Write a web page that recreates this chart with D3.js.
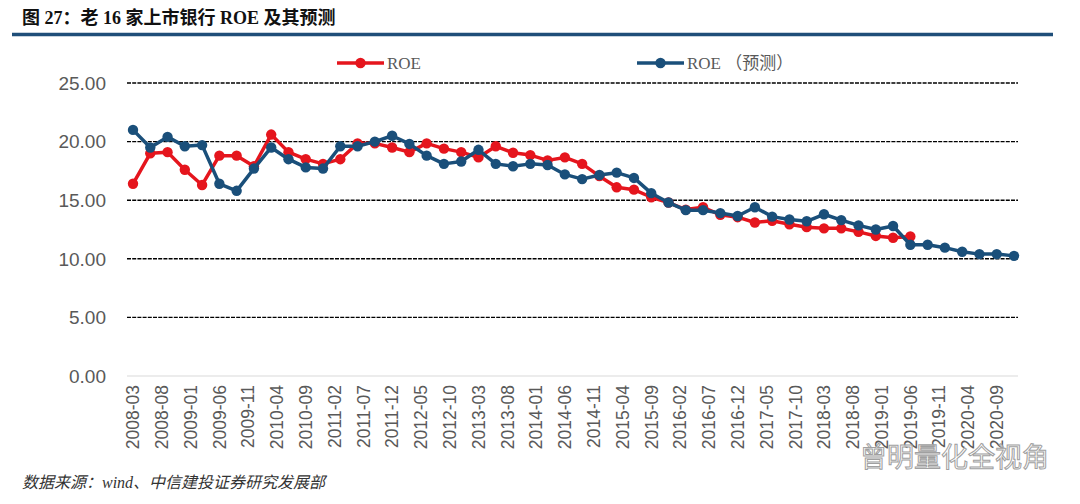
<!DOCTYPE html>
<html>
<head>
<meta charset="utf-8">
<script src="https://cdn.jsdelivr.net/npm/d3@7"></script>
<style>
  body { margin: 0; background: #fff; }
  svg { display: block; }
</style>
</head>
<body>
<svg id="chart" width="1080" height="504"></svg>
<script>
'use strict';

// quarterly ROE (%) of the 16 listed banks, 2008-03 .. 2019-06
const roe = [16.4, 19.0, 19.1, 17.6, 16.3, 18.8, 18.8, 17.9, 20.6, 19.1,
  18.5, 18.1, 18.5, 19.85, 19.85, 19.5, 19.1, 19.85, 19.4, 19.1,
  18.65, 19.6, 19.05, 18.85, 18.4, 18.65, 18.1, 17.05, 16.1, 15.9,
  15.25, 14.8, 14.2, 14.4, 13.75, 13.55, 13.1, 13.25, 12.95, 12.7,
  12.6, 12.6, 12.3, 11.95, 11.8, 11.9];

// forecast series, 2008-03 .. 2020-12
const roeForecast = [21.0, 19.5, 20.4, 19.6, 19.7, 16.4, 15.8, 17.7, 19.5, 18.5,
  17.8, 17.7, 19.6, 19.6, 20.0, 20.5, 19.8, 18.8, 18.1, 18.3,
  19.3, 18.1, 17.9, 18.1, 18.0, 17.2, 16.8, 17.15, 17.35, 16.9,
  15.6, 14.8, 14.15, 14.15, 13.9, 13.65, 14.4, 13.6, 13.35, 13.2,
  13.8, 13.3, 12.85, 12.5, 12.8, 11.2, 11.2, 10.95, 10.6, 10.4,
  10.4, 10.25];

const tickLabels = ["2008-03", "2008-08", "2009-01", "2009-06", "2009-11", "2010-04",
  "2010-09", "2011-02", "2011-07", "2011-12", "2012-05", "2012-10", "2013-03",
  "2013-08", "2014-01", "2014-06", "2014-11", "2015-04", "2015-09", "2016-02",
  "2016-07", "2016-12", "2017-05", "2017-10", "2018-03", "2018-08", "2019-01",
  "2019-06", "2019-11", "2020-04", "2020-09"];

const yTicks = [0, 5, 10, 15, 20, 25];

const RED = "#e5151d", BLUE = "#1a4f7a";

// months since 2008-03
const monthIdx = s => {
  const [y, m] = s.split("-").map(Number);
  return (y - 2008) * 12 + (m - 3);
};

const svg = d3.select("#chart");

const x = d3.scaleLinear().domain([0, 153]).range([133, 1014]);
const y = d3.scaleLinear().domain([0, 25]).range([376, 83]);

// header
svg.append("text")
  .attr("x", 22).attr("y", 24)
  .style("font", "bold 18px 'Liberation Serif', 'Noto Sans CJK SC'")
  .attr("fill", "#111")
  .text("图 27：老 16 家上市银行 ROE 及其预测");

svg.append("line")
  .attr("x1", 12).attr("x2", 1053)
  .attr("y1", 34.5).attr("y2", 34.5)
  .attr("stroke", "#1f4e79").attr("stroke-width", 3.5);

// gridlines
const grid = svg.append("g");
grid.selectAll("line")
  .data(yTicks.filter(d => d > 0))
  .enter().append("line")
    .attr("x1", 127).attr("x2", 1018)
    .attr("y1", d => y(d)).attr("y2", d => y(d))
    .attr("stroke", "#000").attr("stroke-width", 1.4)
    .attr("stroke-dasharray", "4,1.2");

svg.append("line")
  .attr("x1", 127).attr("x2", 1018)
  .attr("y1", y(0)).attr("y2", y(0))
  .attr("stroke", "#d9d9d9").attr("stroke-width", 1.2);

// y axis labels
svg.append("g").selectAll("text")
  .data(yTicks)
  .enter().append("text")
    .attr("x", 106).attr("y", d => y(d))
    .attr("dy", "0.36em")
    .attr("text-anchor", "end")
    .style("font", "19px 'Liberation Sans', Arial, sans-serif")
    .attr("fill", "#595959")
    .text(d => d.toFixed(2));

// x axis labels, rotated
svg.append("g").selectAll("text")
  .data(tickLabels)
  .enter().append("text")
    .attr("transform", d => "translate(" + x(monthIdx(d)) + ",385) rotate(-90)")
    .attr("dy", "0.36em")
    .attr("text-anchor", "end")
    .style("font", "17.5px 'Liberation Sans', Arial, sans-serif")
    .attr("fill", "#595959")
    .text(d => d);

// series
const line = d3.line()
  .x((d, i) => x(i * 3))
  .y(d => y(d));

const series = [
  {id: "ROE", values: roe, color: RED},
  {id: "ROE（预测）", values: roeForecast, color: BLUE}
];

const s = svg.selectAll(".series")
  .data(series)
  .enter().append("g")
    .attr("class", "series");

s.append("path")
  .attr("d", d => line(d.values))
  .attr("fill", "none")
  .attr("stroke", d => d.color)
  .attr("stroke-width", 3.5)
  .attr("stroke-linejoin", "round");

s.each(function(d) {
  d3.select(this).selectAll("circle")
    .data(d.values)
    .enter().append("circle")
      .attr("cx", (v, i) => x(i * 3))
      .attr("cy", v => y(v))
      .attr("r", 5.2)
      .attr("fill", d.color);
});

// legend
const legend = [
  {label: "ROE", color: RED, x0: 337},
  {label: "ROE （预测）", color: BLUE, x0: 637}
];

const lg = svg.selectAll(".legend")
  .data(legend)
  .enter().append("g")
    .attr("class", "legend")
    .attr("transform", d => "translate(" + d.x0 + ",63)");

lg.append("line")
  .attr("x1", 0).attr("x2", 47)
  .attr("stroke", d => d.color).attr("stroke-width", 3.5);

lg.append("circle")
  .attr("cx", 23.5).attr("r", 5.2)
  .attr("fill", d => d.color);

lg.append("text")
  .attr("x", 50).attr("dy", "0.35em")
  .style("font", "17px 'Liberation Serif', 'Noto Sans CJK SC'")
  .attr("fill", "#595959")
  .text(d => d.label);

// source note
svg.append("text")
  .attr("x", 22).attr("y", 488)
  .style("font", "italic 16px 'Liberation Serif', 'Noto Sans CJK SC'")
  .attr("fill", "#333")
  .text("数据来源：wind、中信建投证券研究发展部");

// watermark
svg.append("text")
  .attr("x", 860).attr("y", 467)
  .style("font", "27px 'Noto Sans CJK SC'")
  .attr("fill", "#fff").attr("fill-opacity", 0.7)
  .attr("stroke", "#a0a0a0").attr("stroke-width", 1)
  .text("曾明量化全视角");
</script>
</body>
</html>
